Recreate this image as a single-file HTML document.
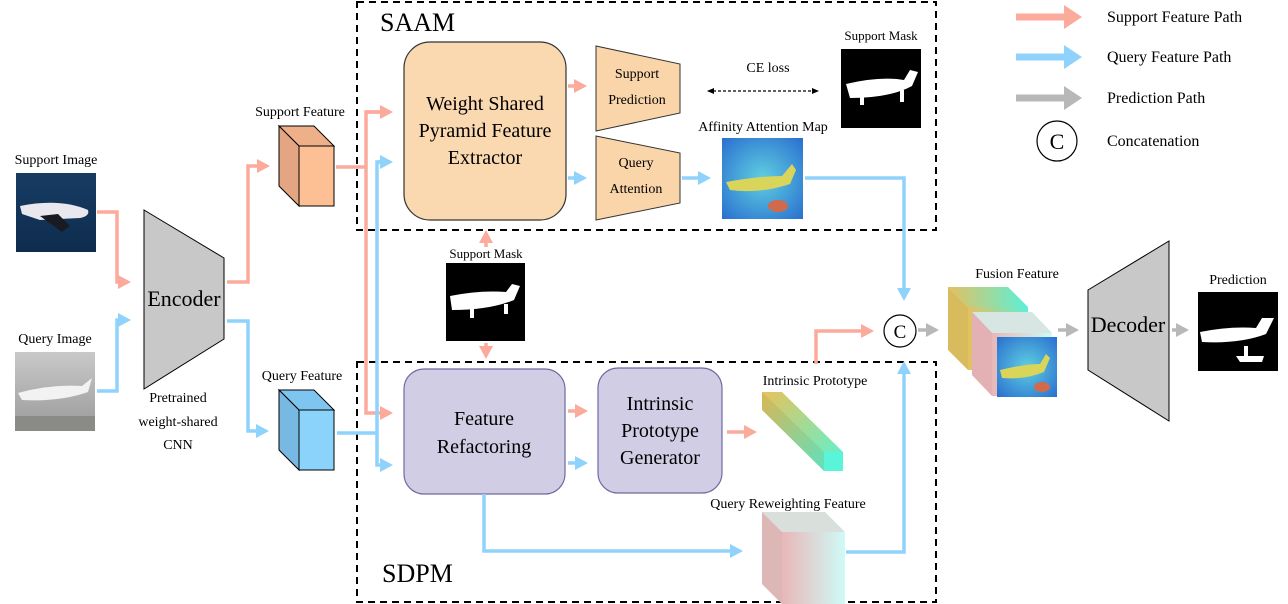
<!DOCTYPE html>
<html><head><meta charset="utf-8"><style>
html,body{margin:0;padding:0;background:#fff;}
svg{display:block;font-family:"Liberation Serif",serif;}
</style></head><body>
<svg width="1288" height="604" viewBox="0 0 1288 604" xmlns="http://www.w3.org/2000/svg">
<defs>
<marker id="mp" markerWidth="14" markerHeight="14" refX="10" refY="7" orient="auto" markerUnits="userSpaceOnUse"><path d="M0,0 L13,7 L0,14 Z" fill="#fbaa9c"/></marker>
<marker id="mb" markerWidth="14" markerHeight="14" refX="10" refY="7" orient="auto" markerUnits="userSpaceOnUse"><path d="M0,0 L13,7 L0,14 Z" fill="#8fd2fb"/></marker>
<marker id="mg" markerWidth="14" markerHeight="14" refX="10" refY="7" orient="auto" markerUnits="userSpaceOnUse"><path d="M0,0 L13,7 L0,14 Z" fill="#b8b8b8"/></marker>
<marker id="Lp" markerWidth="20" markerHeight="24" refX="8" refY="12" orient="auto" markerUnits="userSpaceOnUse"><path d="M0,0 L18,12 L0,24 Z" fill="#fbaa9c"/></marker>
<marker id="Lb" markerWidth="20" markerHeight="24" refX="8" refY="12" orient="auto" markerUnits="userSpaceOnUse"><path d="M0,0 L18,12 L0,24 Z" fill="#8fd2fb"/></marker>
<marker id="Lg" markerWidth="20" markerHeight="24" refX="8" refY="12" orient="auto" markerUnits="userSpaceOnUse"><path d="M0,0 L18,12 L0,24 Z" fill="#b8b8b8"/></marker>
<marker id="mk" markerWidth="8" markerHeight="8" refX="6" refY="4" orient="auto-start-reverse" markerUnits="userSpaceOnUse"><path d="M0,1 L7,4 L0,7 Z" fill="#000"/></marker>
<linearGradient id="gproto" x1="0" y1="0" x2="1" y2="1"><stop offset="0" stop-color="#e8c25a"/><stop offset="1" stop-color="#56f5d6"/></linearGradient>
<linearGradient id="gfus" x1="0" y1="0" x2="1" y2="0"><stop offset="0" stop-color="#e5c060"/><stop offset="1" stop-color="#5af0d8"/></linearGradient>
<linearGradient id="gpink" x1="0" y1="0" x2="1" y2="0"><stop offset="0" stop-color="#e8b7b8"/><stop offset="1" stop-color="#cffaf6"/></linearGradient>
<radialGradient id="gheat" cx="0.5" cy="0.5" r="0.7"><stop offset="0" stop-color="#5fcfe0"/><stop offset="1" stop-color="#2a6fd0"/></radialGradient>
<linearGradient id="gsky" x1="0" y1="0" x2="0" y2="1"><stop offset="0" stop-color="#173c63"/><stop offset="1" stop-color="#0e2c4e"/></linearGradient>
<linearGradient id="gfog" x1="0" y1="0" x2="0" y2="1"><stop offset="0" stop-color="#c9c9c9"/><stop offset="1" stop-color="#9a9a9a"/></linearGradient>
</defs>

<rect x="357" y="2" width="579" height="228" fill="none" stroke="#000" stroke-width="2" stroke-dasharray="7,5"/>
<rect x="357" y="362" width="579" height="240" fill="none" stroke="#000" stroke-width="2" stroke-dasharray="7,5"/>
<text x="380" y="31" font-size="26">SAAM</text>
<text x="382" y="582" font-size="26">SDPM</text>

<text x="56" y="164" font-size="14" text-anchor="middle">Support Image</text>
<rect x="16" y="173" width="80" height="79" fill="url(#gsky)"/>
<path d="M20,206 Q60,198 88,210 Q90,216 80,218 L40,220 L22,214 Z" fill="#e8e8ee"/>
<path d="M40,216 L62,232 L70,226 L58,214 Z" fill="#1a1a22"/>
<text x="55" y="343" font-size="14" text-anchor="middle">Query Image</text>
<rect x="15" y="352" width="80" height="79" fill="url(#gfog)"/>
<path d="M18,393 Q50,384 82,386 L92,378 L88,392 Q60,402 22,400 Z" fill="#f2f2f2"/>
<rect x="15" y="416" width="80" height="15" fill="#8a8a86"/>

<polygon points="144,210 224,258 224,339 144,389" fill="#c8c8c8" stroke="#000" stroke-width="1"/>
<text x="184" y="306" font-size="22" text-anchor="middle">Encoder</text>
<text x="178" y="402" font-size="14" text-anchor="middle">Pretrained</text>
<text x="178" y="426" font-size="14" text-anchor="middle">weight-shared</text>
<text x="178" y="449" font-size="14" text-anchor="middle">CNN</text>

<g fill="none" stroke-width="3.5">
<polyline points="97,212 117,212 117,282 128,282" stroke="#fbaa9c" marker-end="url(#mp)"/>
<polyline points="97,391 117,391 117,320 128,320" stroke="#8fd2fb" marker-end="url(#mb)"/>
<polyline points="227,282 248,282 248,166 267,166" stroke="#fbaa9c" marker-end="url(#mp)"/>
<polyline points="227,321 248,321 248,431 266,431" stroke="#8fd2fb" marker-end="url(#mb)"/>
<polyline points="336,167 366,167" stroke="#fbaa9c"/>
<polyline points="390,112 366,112 366,413 390,413" stroke="#fbaa9c" marker-end="url(#mp)"/>
<line x1="366" y1="112" x2="390" y2="112" stroke="#fbaa9c" marker-end="url(#mp)"/>
<polyline points="337,433 377,433" stroke="#8fd2fb"/>
<polyline points="390,162 377,162 377,465 390,465" stroke="#8fd2fb" marker-end="url(#mb)"/>
<line x1="377" y1="162" x2="390" y2="162" stroke="#8fd2fb" marker-end="url(#mb)"/>
</g>

<text x="300" y="116" font-size="14" text-anchor="middle">Support Feature</text>
<polygon points="279,126 314,126 334,146 299,146" fill="#eeb088" stroke="#000"/>
<polygon points="279,126 299,146 299,206 279,186" fill="#e3a582" stroke="#000"/>
<rect x="299" y="146" width="35" height="60" fill="#fdc094" stroke="#000"/>
<text x="302" y="380" font-size="14" text-anchor="middle">Query Feature</text>
<polygon points="279,390 314,390 334,410 299,410" fill="#7ec6ef" stroke="#000"/>
<polygon points="279,390 299,410 299,470 279,450" fill="#78b9e3" stroke="#000"/>
<rect x="299" y="410" width="35" height="60" fill="#8cd3fb" stroke="#000"/>

<rect x="404" y="42" width="162" height="178" rx="26" fill="#fad8b0" stroke="#333" stroke-width="1.2"/>
<text x="485" y="110" font-size="20" text-anchor="middle">Weight Shared</text>
<text x="485" y="137" font-size="20" text-anchor="middle">Pyramid Feature</text>
<text x="485" y="164" font-size="20" text-anchor="middle">Extractor</text>
<polygon points="596,46 680,64 680,113 596,131" fill="#fad5aa" stroke="#333"/>
<text x="637" y="78" font-size="14" text-anchor="middle">Support</text>
<text x="637" y="104" font-size="14" text-anchor="middle">Prediction</text>
<polygon points="596,136 680,153 680,203 596,220" fill="#fad5aa" stroke="#333"/>
<text x="636" y="167" font-size="14" text-anchor="middle">Query</text>
<text x="636" y="193" font-size="14" text-anchor="middle">Attention</text>
<g fill="none" stroke-width="3.5">
<line x1="568" y1="86" x2="584" y2="86" stroke="#fbaa9c" marker-end="url(#mp)"/>
<line x1="568" y1="178" x2="584" y2="178" stroke="#8fd2fb" marker-end="url(#mb)"/>
<line x1="682" y1="178" x2="708" y2="178" stroke="#8fd2fb" marker-end="url(#mb)"/>
<polyline points="805,178 904,178 904,298" stroke="#8fd2fb" marker-end="url(#mb)"/>
</g>
<text x="768" y="72" font-size="14" text-anchor="middle">CE loss</text>
<line x1="708" y1="91" x2="818" y2="91" stroke="#000" stroke-width="1.2" stroke-dasharray="3,2" marker-end="url(#mk)" marker-start="url(#mk)"/>
<text x="881" y="40" font-size="13" text-anchor="middle">Support Mask</text>
<rect x="841" y="49" width="80" height="79" fill="#000"/>
<path d="M846,84 Q880,76 904,80 L910,70 L918,72 L912,86 Q890,98 850,98 Z" fill="#fff"/>
<rect x="860" y="95" width="4" height="10" fill="#fff"/><rect x="900" y="90" width="4" height="12" fill="#fff"/>
<text x="763" y="131" font-size="14" text-anchor="middle">Affinity Attention Map</text>
<rect x="722" y="138" width="81" height="81" fill="url(#gheat)"/>
<path d="M726,182 Q760,176 782,176 L792,164 L796,170 L790,184 Q760,194 730,190 Z" fill="#d9d45a"/>
<ellipse cx="778" cy="206" rx="10" ry="6" fill="#d06a4a"/>

<text x="486" y="258" font-size="13" text-anchor="middle">Support Mask</text>
<rect x="446" y="263" width="79" height="78" fill="#000"/>
<path d="M450,296 Q480,290 506,292 L512,284 L520,286 L514,300 Q490,310 452,310 Z" fill="#fff"/>
<rect x="470" y="308" width="4" height="10" fill="#fff"/><rect x="504" y="304" width="4" height="10" fill="#fff"/>
<g fill="none" stroke-width="3.5">
<line x1="486" y1="247" x2="486" y2="233" stroke="#fbaa9c" marker-end="url(#mp)"/>
<line x1="486" y1="343" x2="486" y2="356" stroke="#fbaa9c" marker-end="url(#mp)"/>
</g>

<rect x="404" y="369" width="161" height="125" rx="20" fill="#d1cde5" stroke="#6e6aa0" stroke-width="1.2"/>
<text x="484" y="425" font-size="20" text-anchor="middle">Feature</text>
<text x="484" y="453" font-size="20" text-anchor="middle">Refactoring</text>
<rect x="598" y="368" width="124" height="125" rx="20" fill="#d1cde5" stroke="#6e6aa0" stroke-width="1.2"/>
<text x="660" y="410" font-size="20" text-anchor="middle">Intrinsic</text>
<text x="660" y="437" font-size="20" text-anchor="middle">Prototype</text>
<text x="660" y="464" font-size="20" text-anchor="middle">Generator</text>
<g fill="none" stroke-width="3.5">
<line x1="568" y1="411" x2="585" y2="411" stroke="#fbaa9c" marker-end="url(#mp)"/>
<line x1="568" y1="463" x2="585" y2="463" stroke="#8fd2fb" marker-end="url(#mb)"/>
<line x1="727" y1="432" x2="754" y2="432" stroke="#fbaa9c" marker-end="url(#mp)"/>
<polyline points="484,494 484,551 740,551" stroke="#8fd2fb" marker-end="url(#mb)"/>
<polyline points="846,552 904,552 904,364" stroke="#8fd2fb" marker-end="url(#mb)"/>
<polyline points="816,364 816,331 871,331" stroke="#fbaa9c" marker-end="url(#mp)"/>
<line x1="918" y1="330" x2="936" y2="330" stroke="#b8b8b8" marker-end="url(#mg)"/>
<line x1="1058" y1="330" x2="1076" y2="330" stroke="#b8b8b8" marker-end="url(#mg)"/>
<line x1="1172" y1="330" x2="1186" y2="330" stroke="#b8b8b8" marker-end="url(#mg)"/>
</g>
<text x="815" y="385" font-size="14" text-anchor="middle">Intrinsic Prototype</text>
<polygon points="762,392 782,392 843,452 843,471 824,471 762,410" fill="url(#gproto)"/>
<polygon points="762,392 824,452 824,471 762,410" fill="#000" opacity="0.06"/>
<rect x="824" y="452" width="19" height="19" fill="#5af5d8"/>
<text x="788" y="508" font-size="14" text-anchor="middle">Query Reweighting Feature</text>
<polygon points="762,512 825,512 845,532 782,532" fill="#d9e0dc"/>
<polygon points="762,512 782,532 782,604 762,584" fill="#ddb6b6"/>
<rect x="782" y="532" width="63" height="72" fill="url(#gpink)"/>

<circle cx="900" cy="331" r="16" fill="#fff" stroke="#000" stroke-width="1.2"/>
<text x="900" y="338" font-size="19" text-anchor="middle">C</text>

<text x="1017" y="278" font-size="14" text-anchor="middle">Fusion Feature</text>
<polygon points="948,287 1008,287 1028,307 968,307" fill="url(#gfus)"/>
<polygon points="948,287 968,307 968,370 948,350" fill="#d8bb5c"/>
<rect x="968" y="307" width="60" height="63" fill="url(#gfus)"/>
<polygon points="972,312 1032,312 1052,333 992,333" fill="#d7e6e2"/>
<polygon points="972,312 992,333 992,396 972,375" fill="#e3b1b3"/>
<rect x="992" y="333" width="60" height="63" fill="url(#gpink)"/>
<rect x="997" y="337" width="60" height="60" fill="url(#gheat)"/>
<path d="M1000,370 Q1025,364 1040,364 L1046,354 L1050,358 L1044,372 Q1024,380 1002,378 Z" fill="#d9d45a"/>
<ellipse cx="1042" cy="387" rx="8" ry="5" fill="#d06a4a"/>

<polygon points="1088,290 1169,241 1169,421 1088,370" fill="#c8c8c8" stroke="#000" stroke-width="1"/>
<text x="1128" y="332" font-size="22" text-anchor="middle">Decoder</text>
<text x="1238" y="284" font-size="14" text-anchor="middle">Prediction</text>
<rect x="1198" y="292" width="80" height="79" fill="#000"/>
<path d="M1200,332 Q1230,326 1256,328 L1262,318 L1274,318 L1266,334 Q1240,344 1202,342 Z" fill="#fff"/>
<path d="M1236,356 L1264,356 L1262,362 L1240,362 Z M1244,346 L1248,346 L1248,356 L1244,356 Z" fill="#fff"/>

<g fill="none" stroke-width="7">
<line x1="1016" y1="17" x2="1072" y2="17" stroke="#fbaa9c" marker-end="url(#Lp)"/>
<line x1="1016" y1="57" x2="1072" y2="57" stroke="#8fd2fb" marker-end="url(#Lb)"/>
<line x1="1016" y1="98" x2="1072" y2="98" stroke="#b8b8b8" marker-end="url(#Lg)"/>
</g>
<text x="1107" y="22" font-size="16">Support Feature Path</text>
<text x="1107" y="62" font-size="16">Query Feature Path</text>
<text x="1107" y="103" font-size="16">Prediction Path</text>
<circle cx="1057" cy="141" r="20" fill="#fff" stroke="#000" stroke-width="1.2"/>
<text x="1057" y="149" font-size="22" text-anchor="middle">C</text>
<text x="1107" y="146" font-size="16">Concatenation</text>
</svg>
</body></html>
